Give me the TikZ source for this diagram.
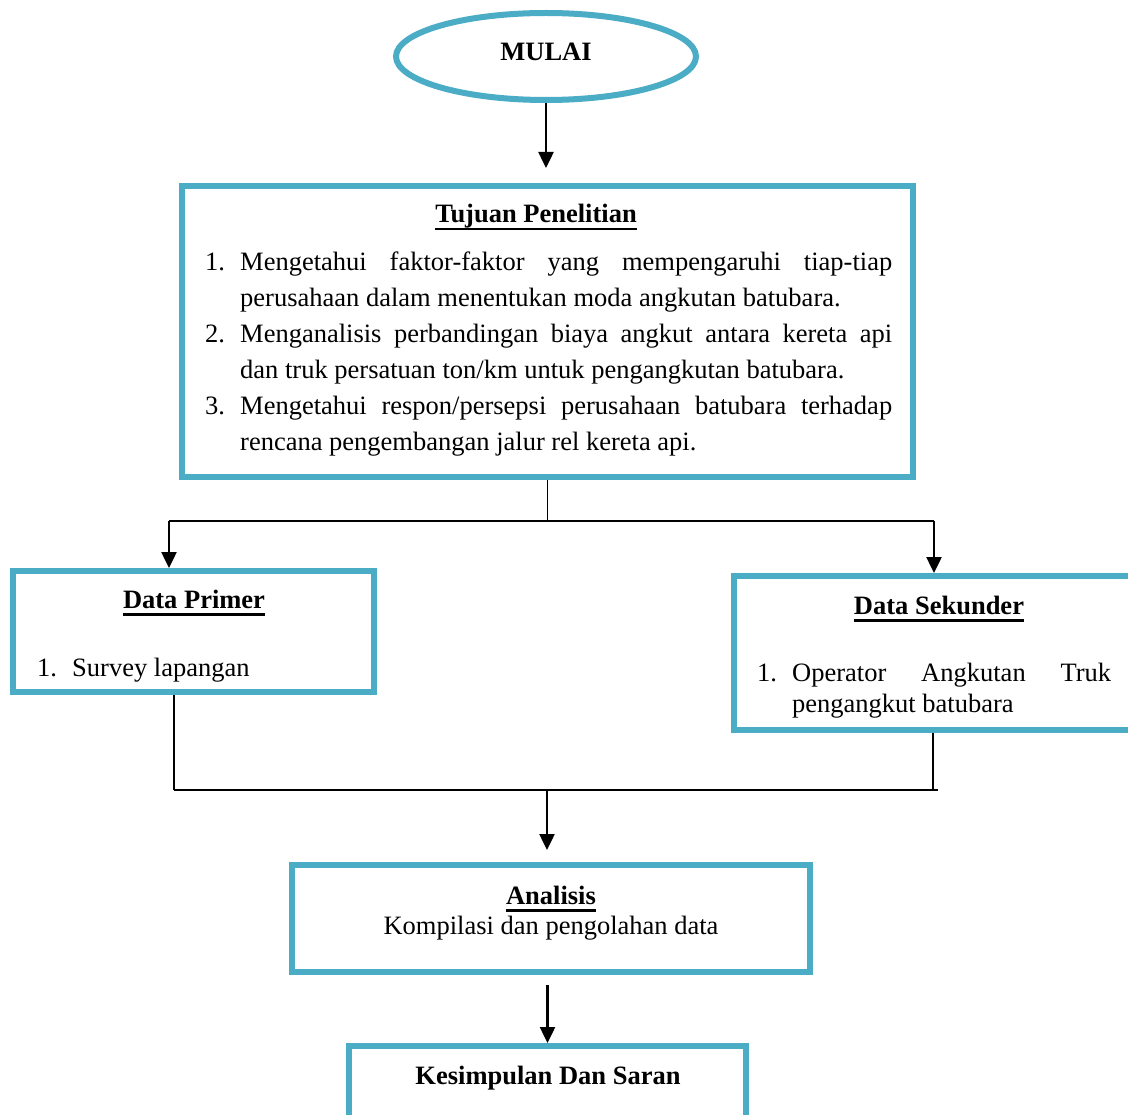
\documentclass[tikz,border=0pt]{standalone}
\usepackage{fontspec}
\setmainfont{Liberation Serif}
\usetikzlibrary{shapes.geometric,arrows.meta}
\definecolor{bluebd}{HTML}{4BACC6}
\newcommand\ulbox[1]{\setbox0\hbox{#1}\rlap{\vrule height -5pt depth 7.5pt width \wd0}\box0}
\begin{document}
\begin{tikzpicture}[x=1pt,y=-1pt,
  box/.style={draw=bluebd,line width=6pt,inner sep=0pt},
  txt/.style={font=\fontsize{26.5}{32}\selectfont,inner sep=0pt,anchor=base},
  txtl/.style={txt,anchor=base west},
  arr/.style={line width=2.5pt,-{Triangle[length=16pt,width=15pt]}},
  ln/.style={line width=1.8pt}]
\clip (0,0) rectangle (1128,1115);
\fill[white] (0,0) rectangle (1128,1115);

% shapes
\node[box,ellipse,minimum width=300pt,minimum height=87pt] (mulai) at (546,56.5) {};
\node[box,minimum width=731pt,minimum height=291pt] (tujuan) at (547.5,331.5) {};
\node[box,minimum width=361pt,minimum height=121pt] (primer) at (193.5,631.5) {};
\node[box,minimum width=406pt,minimum height=154pt] (sekunder) at (937,653) {};
\node[box,minimum width=518pt,minimum height=107pt] (analisis) at (551,918.5) {};
\node[box,minimum width=397pt,minimum height=79pt] (kesimpulan) at (547.5,1085.5) {};

% texts
\node[txt] (tmulai) at (546,61) {\textbf{MULAI}};
\node[txt] (ttujuan) at (536,223) {\ulbox{\textbf{Tujuan Penelitian}}};
\node[txtl] (n1) at (205,271) {1.};
\node[txtl] (l1) at (240,271) {\makebox[652pt][s]{Mengetahui faktor-faktor yang mempengaruhi tiap-tiap}};
\node[txtl] (l2) at (240,306.8) {perusahaan dalam menentukan moda angkutan batubara.};
\node[txtl] (n2) at (205,342.6) {2.};
\node[txtl] (l3) at (240,342.6) {\makebox[652pt][s]{Menganalisis perbandingan biaya angkut antara kereta api}};
\node[txtl] (l4) at (240,378.4) {dan truk persatuan ton/km untuk pengangkutan batubara.};
\node[txtl] (n3) at (205,414.2) {3.};
\node[txtl] (l5) at (240,414.2) {\makebox[652pt][s]{Mengetahui respon/persepsi perusahaan batubara terhadap}};
\node[txtl] (l6) at (240,450) {rencana pengembangan jalur rel kereta api.};

\node[txt] (tprimer) at (194,608) {\ulbox{\textbf{Data Primer}}};
\node[txtl] (p1n) at (37,676) {1.};
\node[txtl] (p1) at (72,676) {Survey lapangan};

\node[txt] (tsek) at (939,614) {\ulbox{\textbf{Data Sekunder}}};
\node[txtl] (s1n) at (757,681) {1.};
\node[txtl] (s1) at (792,681) {\makebox[319pt][s]{Operator Angkutan Truk}};
\node[txtl] (s2) at (792,712) {pengangkut batubara};

\node[txt] (tanal) at (551,904) {\ulbox{\textbf{Analisis}}};
\node[txt] (tkomp) at (551,934) {Kompilasi dan pengolahan data};

\node[txt] (tkes) at (548,1084) {\textbf{Kesimpulan Dan Saran}};

% connectors
\draw[arr,shorten >=15pt] (mulai.south) -- (mulai.south |- tujuan.north);

\coordinate (split) at (547.5,521);
\coordinate (pl) at (169,521);
\coordinate (pr) at (934,521);
\draw[ln] (tujuan.south) -- (split);
\draw[ln] (pl) -- (pr);
\draw[arr] (pl) -- (pl |- primer.north);
\draw[arr] (pr) -- (pr |- sekunder.north);

\coordinate (ml) at (174,790);
\coordinate (mrv) at (933,790);
\coordinate (mr) at (938,790);
\coordinate (mm) at (547,790);
\draw[ln] (ml |- primer.south) -- (ml);
\draw[ln] (mrv |- sekunder.south) -- (mrv);
\draw[ln] (ml) -- (mr);
\draw[arr,shorten >=12pt] (mm) -- (mm |- analisis.north);
\draw[arr,shorten <=10pt] (kesimpulan.north |- analisis.south) -- (kesimpulan.north);
\end{tikzpicture}
\end{document}
